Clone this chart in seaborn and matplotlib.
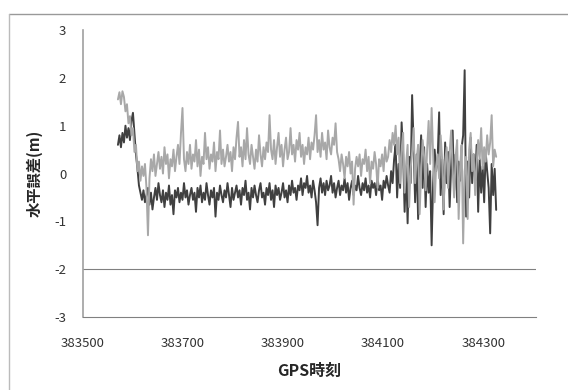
import numpy as np
import pandas as pd
import matplotlib.pyplot as plt
import seaborn as sns

# GPS time of first sample and sampling step (s)
t_start = 383570
t_step = 3

# horizontal error (m), light series
err_light = [1.55, 1.70, 1.45, 1.72, 1.60, 1.30, 1.45, 1.05, 1.20, 0.80,
             0.95, 0.45, 0.60, 0.05, 0.25, -0.15, 0.15, -0.05, 0.20, -0.30,
             -1.29, -0.10, 0.30, 0.05, 0.40, -0.05, 0.20, 0.45, 0.10, 0.35,
             0.00, 0.55, 0.20, 0.40, -0.10, 0.30, 0.15, 0.50, 0.05, 0.35,
             0.60, 0.20, 0.85, 1.37, 0.30, 0.05, 0.45, 0.20, 0.60, 0.10,
             0.40, 0.25, 0.70, 0.15, 0.50, -0.05, 0.35, 0.20, 0.85, 0.30,
             0.55, 0.10, 0.40, 0.25, 0.65, 0.05, 0.45, 0.30, 0.90, 0.20,
             0.50, 0.15, 0.35, 0.60, 0.25, 0.45, 0.05, 0.55, 0.30, 0.75,
             1.08, 0.35, 0.55, 0.15, 0.70, 0.30, 0.95, 0.40, 0.20, 0.60,
             0.35, 0.10, 0.50, 0.25, 0.80, 0.40, 0.15, 0.55, 0.30, 0.65,
             0.45, 1.22, 0.50, 0.30, 0.70, 0.20, 0.55, 0.85, 0.35, 0.60,
             0.15, 0.50, 0.75, 0.30, 0.45, 0.95, 0.40, 0.60, 0.25, 0.70,
             0.50, 0.85, 0.35, 0.60, 0.20, 0.55, 0.40, 0.75, 0.30, 0.65,
             0.50, 0.80, 1.22, 0.45, 0.70, 0.35, 0.85, 0.50, 0.65, 0.30,
             0.90, 0.55, 0.40, 0.75, 0.60, 1.05, 0.45, 0.30, 0.05, 0.40,
             0.20, -0.10, 0.35, 0.15, 0.45, 0.00, 0.25, -0.65, 0.10, 0.35,
             0.15, 0.40, -0.05, 0.30, 0.20, 0.50, 0.05, 0.35, -0.20, 0.25,
             0.10, 0.45, 0.20, -0.30, 0.30, 0.15, 0.40, 0.05, 0.55, 0.25,
             0.35, 0.70, 0.45, 0.85, 0.60, 1.00, 0.40, 0.75, -0.20, 0.50,
             0.85, -0.40, 0.20, 0.60, -0.70, 0.10, 0.45, 0.95, -0.20, 0.30,
             0.60, -0.85, 0.05, 0.70, 0.35, -0.35, 0.50, 1.10, 0.20, 1.37,
             0.40, -0.60, 0.15, 0.40, -0.10, 0.80, 0.30, -0.75, 0.25, 0.55,
             -0.30, 0.45, 0.90, 0.10, -0.50, 0.35, 0.70, -0.95, 0.15, 0.60,
             -1.46, 0.05, 0.35, -0.95, 0.50, 0.85, 0.05, 0.40, -0.45, 0.20,
             0.70, 0.30, 0.95, 0.10, 0.55, 0.25, 0.80, 0.40, 0.65, 1.22,
             0.15, 0.50, 0.35]

# horizontal error (m), dark series
err_dark = [0.60, 0.80, 0.55, 0.85, 0.65, 1.00, 0.75, 0.95, 0.70, 1.10,
            1.27, 0.85, 0.40, 0.10, -0.25, -0.40, -0.55, -0.35, -0.60, -0.45,
            -0.30, -0.65, -0.40, -0.75, -0.50, -0.30, -0.55, -0.20, -0.45, -0.60,
            -0.35, -0.70, -0.40, -0.55, -0.25, -0.65, -0.45, -0.85, -0.35, -0.50,
            -0.30, -0.60, -0.40, -0.55, -0.20, -0.50, -0.35, -0.65, -0.45, -0.30,
            -0.55, -0.40, -0.80, -0.30, -0.50, -0.25, -0.60, -0.40, -0.55, -0.20,
            -0.45, -0.65, -0.35, -0.50, -0.30, -0.90, -0.40, -0.55, -0.25, -0.45,
            -0.60, -0.35, -0.50, -0.20, -0.45, -0.70, -0.30, -0.55, -0.40, -0.25,
            -0.50, -0.35, -0.65, -0.30, -0.45, -0.15, -0.55, -0.40, -0.75, -0.30,
            -0.50, -0.25, -0.45, -0.60, -0.35, -0.20, -0.50, -0.40, -0.65, -0.30,
            -0.45, -0.20, -0.55, -0.35, -0.70, -0.25, -0.45, -0.30, -0.55, -0.40,
            -0.20, -0.50, -0.35, -0.60, -0.25, -0.45, -0.15, -0.40, -0.30, -0.55,
            -0.25, -0.35, -0.10, -0.45, -0.20, -0.30, -0.05, -0.40, -0.25, -0.50,
            -0.15, -0.35, -0.60, -1.08, -0.30, -0.10, -0.40, -0.20, -0.45, -0.15,
            -0.35, -0.25, -0.05, -0.40, -0.20, -0.50, -0.30, -0.15, -0.45, -0.25,
            -0.35, -0.10, -0.40, -0.20, -0.55, -0.30, -0.15, -0.45, -0.25, -0.35,
            -0.05, -0.30, -0.45, -0.20, -0.35, -0.10, -0.40, -0.25, -0.50, -0.15,
            -0.30, -0.20, -0.45, -0.10, -0.35, -0.25, -0.55, -0.15, -0.30, -0.05,
            -0.25, -0.40, 0.05, -0.20, 0.30, 0.60, -0.50, 0.20, -0.30, 1.07,
            0.40, -0.80, 0.15, -1.04, 0.35, -0.20, 1.64, 0.60, -0.60, 0.40,
            -0.95, 0.10, 0.80, -0.30, 0.55, -0.70, 0.20, -0.40, 0.05, -1.50,
            -0.20, 0.50, 0.05, 0.30, 1.28, -0.45, 0.30, -0.85, 0.65, -0.20,
            0.45, -0.70, 0.15, 0.90, -0.35, 0.40, -0.60, 0.25, -0.15, 0.55,
            0.80, 2.16, -0.90, 0.25, -0.50, 0.75, -0.20, 0.40, -0.15, 0.60,
            -0.80, 0.30, -0.40, 0.15, -0.60, 0.45, 0.05, -0.30, -1.25, 0.20,
            -0.45, 0.10, -0.76]

x_ticks = [383500, 383700, 383900, 384100, 384300]
y_ticks = [3, 2, 1, 0, -1, -2, -3]

sns.set_style("white")
plt.rcParams['font.family'] = ['Noto Sans CJK JP', 'DejaVu Sans']
plt.rcParams['axes.unicode_minus'] = False

df_dark = pd.DataFrame({'t': t_start + t_step * np.arange(len(err_dark)), 'e': err_dark})
df_light = pd.DataFrame({'t': t_start + t_step * np.arange(len(err_light)), 'e': err_light})

fig = plt.figure(figsize=(5.68, 3.90), dpi=100)
ax = fig.add_axes([0.146, 0.187, 0.798, 0.736])

sns.lineplot(data=df_dark, x='t', y='e', ax=ax, color='#404040', linewidth=1.4)
sns.lineplot(data=df_light, x='t', y='e', ax=ax, color='#a8a8a8', linewidth=1.4)

ax.axhline(-2, color='#808080', linewidth=0.8)
ax.set_xlim(383500, 384406)
ax.set_ylim(-3, 3)
ax.set_xticks(x_ticks)
ax.set_yticks(y_ticks)
ax.tick_params(axis='both', length=0, labelsize=9.5, colors='#333333')
ax.tick_params(axis='x', pad=14)
ax.tick_params(axis='y', pad=12)

for s in ['top', 'right']:
    ax.spines[s].set_visible(False)
ax.spines['left'].set_color('#a0a0a0')
ax.spines['left'].set_linewidth(1.2)
ax.spines['bottom'].set_color('#808080')
ax.spines['bottom'].set_linewidth(0.8)

ax.set_xlabel('GPS時刻', fontsize=11.5, fontweight='bold', labelpad=10)
ax.set_ylabel('水平誤差(m)', fontsize=11, fontweight='bold', labelpad=8)

# chart border (top and left)
fig.add_artist(plt.Line2D([9/568, 1], [1 - 14/390, 1 - 14/390], color='#999999', linewidth=1))
fig.add_artist(plt.Line2D([9/568, 9/568], [0, 1 - 14/390], color='#bbbbbb', linewidth=1))

fig.savefig('out.png', dpi=100)
